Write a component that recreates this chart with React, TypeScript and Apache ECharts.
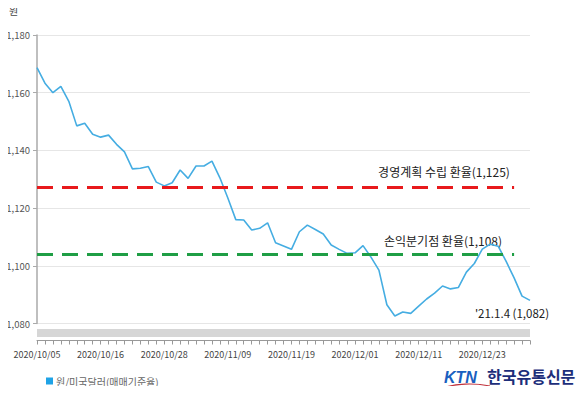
import React, { useEffect, useRef } from "react";
import * as echarts from "echarts";

const dates: string[] = [
  "2020/10/05", "2020/10/06", "2020/10/07", "2020/10/08", "2020/10/12", "2020/10/13", "2020/10/14", "2020/10/15",
  "2020/10/16", "2020/10/19", "2020/10/20", "2020/10/21", "2020/10/22", "2020/10/23", "2020/10/26", "2020/10/27",
  "2020/10/28", "2020/10/29", "2020/10/30", "2020/11/02", "2020/11/03", "2020/11/04", "2020/11/05", "2020/11/06",
  "2020/11/09", "2020/11/10", "2020/11/11", "2020/11/12", "2020/11/13", "2020/11/16", "2020/11/17", "2020/11/18",
  "2020/11/19", "2020/11/20", "2020/11/23", "2020/11/24", "2020/11/25", "2020/11/26", "2020/11/27", "2020/11/30",
  "2020/12/01", "2020/12/02", "2020/12/03", "2020/12/04", "2020/12/07", "2020/12/08", "2020/12/09", "2020/12/10",
  "2020/12/11", "2020/12/14", "2020/12/15", "2020/12/16", "2020/12/17", "2020/12/18", "2020/12/21", "2020/12/22",
  "2020/12/23", "2020/12/24", "2020/12/28", "2020/12/29", "2020/12/30", "2020/12/31", "2021/01/04",
];

const krwUsd: number[] = [
  1168.7, 1163.3, 1160.0, 1162.2, 1157.0, 1148.5, 1149.4, 1145.6,
  1144.6, 1145.3, 1142.1, 1139.5, 1133.6, 1133.8, 1134.4, 1129.0,
  1127.7, 1128.8, 1133.2, 1130.3, 1134.6, 1134.6, 1136.3, 1130.5,
  1123.5, 1116.0, 1115.9, 1112.4, 1113.0, 1114.9, 1108.0, 1106.9,
  1105.7, 1111.8, 1114.1, 1112.6, 1111.0, 1107.2, 1105.7, 1104.3,
  1104.5, 1107.0, 1103.0, 1098.5, 1086.5, 1082.6, 1084.0, 1083.5,
  1086.0, 1088.5, 1090.5, 1093.0, 1092.0, 1092.5, 1097.8, 1100.8,
  1105.8, 1107.5, 1106.8, 1101.5, 1095.8, 1089.5, 1088.0,
];

const planRate = 1127.2;
const breakEvenRate = 1104.0;
const planLineEndIndex = 60;

const yTicks = { min: 1080, max: 1180, interval: 20 };

const seriesName = "원/미국달러(매매기준율)";
const planLabel = "경영계획 수립 환율(1,125)";
const breakEvenLabel = "손익분기점 환율(1,108)";
const lastLabel = "'21.1.4 (1,082)";
const yUnit = "원";

const FONT = "'Noto Sans CJK KR', 'Noto Sans', sans-serif";

export default function App() {
  const ref = useRef<HTMLDivElement>(null);
  useEffect(() => {
    if (!ref.current) return;
    const chart = echarts.init(ref.current, null, { renderer: "svg" });
    chart.setOption({
      animation: false,
      backgroundColor: "#ffffff",
      textStyle: { fontFamily: FONT },
      grid: { left: 37, right: 54, top: 35, bottom: 70.5, containLabel: false },
      legend: {
        left: 41,
        top: 371,
        icon: "rect",
        itemWidth: 7,
        itemHeight: 7,
        itemGap: 4,
        textStyle: { fontSize: 10, color: "#666", fontFamily: FONT, padding: [0, 0, 0, -2] },
        data: [seriesName],
      },
      xAxis: {
        type: "category",
        data: dates,
        boundaryGap: false,
        offset: 17,
        axisLine: { lineStyle: { color: "#999", width: 1 } },
        axisTick: { show: true, interval: 0, length: 4, lineStyle: { color: "#999" } },
        axisLabel: { interval: 7, fontSize: 9, color: "#444", margin: 9, fontFamily: FONT },
        splitLine: { show: false },
      },
      yAxis: {
        type: "value",
        min: yTicks.min,
        max: yTicks.max,
        interval: yTicks.interval,
        axisLine: { show: true, lineStyle: { color: "#aaa", width: 1.5 } },
        axisTick: { show: true, length: 4, lineStyle: { color: "#aaa" } },
        axisLabel: {
          fontSize: 9.5,
          color: "#555",
          margin: 7,
          fontFamily: FONT,
          formatter: (v: number) => v.toLocaleString("en-US"),
        },
        splitLine: { show: true, lineStyle: { color: "#e6e6e6", width: 1 } },
      },
      series: [
        {
          name: seriesName,
          type: "line",
          data: krwUsd,
          symbol: "none",
          itemStyle: { color: "#1fa3e6" },
          lineStyle: { color: "#45ade2", width: 1.6 },
          markLine: {
            silent: true,
            symbol: "none",
            label: { show: false },
            data: [
              [
                { coord: [0, planRate], lineStyle: { color: "#e8191c", width: 2.8, type: [16, 9] } },
                { coord: [planLineEndIndex, planRate] },
              ],
              [
                { coord: [0, breakEvenRate], lineStyle: { color: "#1f9e45", width: 2.8, type: [16, 9] } },
                { coord: [planLineEndIndex, breakEvenRate] },
              ],
            ],
          },
        },
      ],
      graphic: [
        { type: "text", left: 9, top: 5, style: { text: yUnit, fontSize: 10, fill: "#444", fontFamily: FONT } },
        { type: "rect", shape: { x: 37, y: 329, width: 493, height: 8 }, style: { fill: "#d6d6d6" } },
        {
          type: "text",
          x: 444,
          y: 171,
          style: { text: planLabel, fontSize: 12, fill: "#222", fontFamily: FONT, align: "center", verticalAlign: "middle" },
        },
        {
          type: "text",
          x: 443,
          y: 240,
          style: { text: breakEvenLabel, fontSize: 12, fill: "#222", fontFamily: FONT, align: "center", verticalAlign: "middle" },
        },
        {
          type: "text",
          x: 512,
          y: 313,
          style: { text: lastLabel, fontSize: 11.5, fill: "#222", fontFamily: FONT, align: "center", verticalAlign: "middle" },
        },
        {
          type: "text",
          x: 444,
          y: 377,
          style: {
            text: "KTN",
            fontSize: 16,
            fontWeight: "bold",
            fontStyle: "italic",
            fill: "#1a5fbf",
            fontFamily: "'Liberation Sans', Arial, sans-serif",
            verticalAlign: "middle",
          },
        },
        {
          type: "bezierCurve",
          shape: { x1: 440, y1: 389, x2: 490, y2: 386, cpx1: 455, cpy1: 383, cpx2: 475, cpy2: 383 },
          style: { stroke: "#c0303a", lineWidth: 1.2, fill: "none" },
        },
        {
          type: "text",
          x: 487,
          y: 376,
          style: {
            text: "한국유통신문",
            fontSize: 16,
            fontWeight: "bold",
            fill: "#1d2e7a",
            fontFamily: FONT,
            verticalAlign: "middle",
          },
        },
      ],
    });
    return () => chart.dispose();
  }, []);
  return <div ref={ref} style={{ width: 584, height: 394, margin: -8 }} />;
}
